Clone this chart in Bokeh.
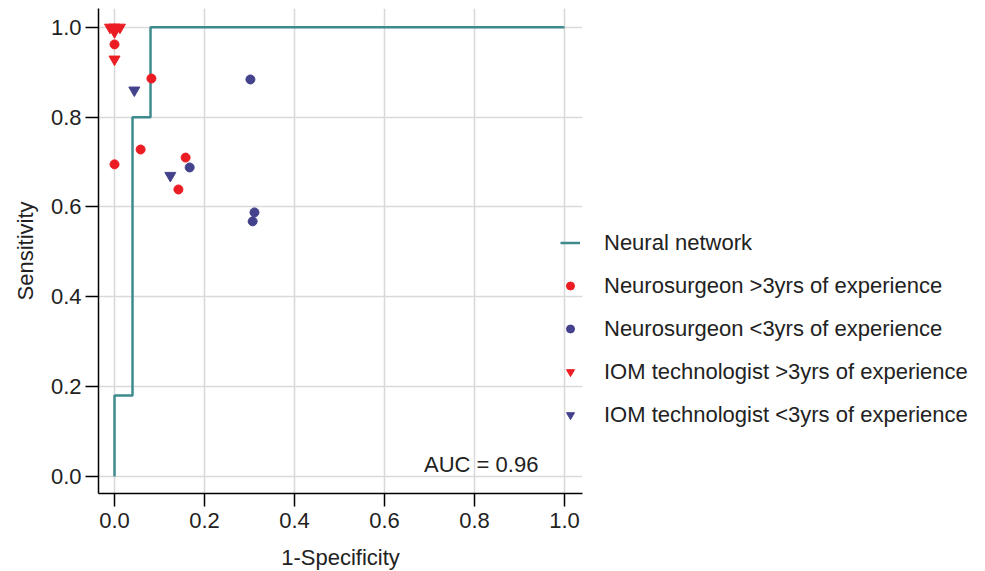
from bokeh.plotting import figure
from bokeh.models import Range1d, Legend, LegendItem, Label, FixedTicker, NumeralTickFormatter
from bokeh.embed import file_html
from bokeh.resources import INLINE

# ROC curve of the neural network
nn_fpr = [0.0, 0.0, 0.04, 0.04, 0.08, 0.08, 1.0]
nn_tpr = [0.0, 0.18, 0.18, 0.80, 0.80, 1.0, 1.0]

# Neurosurgeon >3yrs of experience
ns_sen_x = [0.0, 0.082, 0.058, 0.0, 0.158, 0.142]
ns_sen_y = [0.962, 0.886, 0.728, 0.695, 0.710, 0.639]

# Neurosurgeon <3yrs of experience
ns_jun_x = [0.302, 0.167, 0.311, 0.307]
ns_jun_y = [0.884, 0.688, 0.588, 0.568]

# IOM technologist >3yrs of experience
iom_sen_x = [-0.010, 0.0, 0.012, 0.0, 0.0]
iom_sen_y = [1.0, 1.0, 1.0, 0.99, 0.929]

# IOM technologist <3yrs of experience
iom_jun_x = [0.044, 0.124]
iom_jun_y = [0.860, 0.670]

ticks = [0.0, 0.2, 0.4, 0.6, 0.8, 1.0]
auc_text = "AUC = 0.96"

RED = "#ec1c24"
BLUE = "#45428d"
TEAL = "#3f8a8d"
FONT = "Liberation Sans"
TXT = "#222222"
FS = "22px"

p = figure(width=985, height=571, frame_width=484, frame_height=485,
           min_border_left=98, min_border_right=403, min_border_top=8, min_border_bottom=78,
           x_range=Range1d(-0.0356, 1.04), y_range=Range1d(-0.038, 1.042),
           output_backend="svg", toolbar_location=None)
p.outline_line_color = None
p.background_fill_color = "white"

for ax in (p.xaxis[0], p.yaxis[0]):
    ax.ticker = FixedTicker(ticks=ticks)
    ax.formatter = NumeralTickFormatter(format="0.0")
    ax.minor_tick_line_color = None
    ax.major_tick_in = 0
    ax.major_tick_out = 13
    ax.major_tick_line_width = 1.5
    ax.major_tick_line_color = "black"
    ax.axis_line_width = 1.5
    ax.axis_line_color = "black"
    ax.major_label_text_font = FONT
    ax.major_label_text_font_size = FS
    ax.major_label_text_color = TXT
    ax.axis_label_text_font = FONT
    ax.axis_label_text_font_size = FS
    ax.axis_label_text_font_style = "normal"
    ax.axis_label_text_color = TXT

p.xaxis.axis_label = "1-Specificity"
p.yaxis.axis_label = "Sensitivity"
p.xaxis.major_label_standoff = 6
p.yaxis.major_label_standoff = 4
p.xaxis.axis_label_standoff = 14
p.yaxis.axis_label_standoff = 10

for g in (p.xgrid[0], p.ygrid[0]):
    g.ticker = FixedTicker(ticks=ticks)
    g.grid_line_color = "#d9d9d9"
    g.grid_line_width = 1.6

r_nn = p.line(nn_fpr, nn_tpr, line_color=TEAL, line_width=2.5)
r_ns_sen = p.scatter(ns_sen_x, ns_sen_y, marker="circle", size=9, fill_color=RED, line_color=RED)
r_ns_jun = p.scatter(ns_jun_x, ns_jun_y, marker="circle", size=9, fill_color=BLUE, line_color=BLUE)
r_iom_sen = p.scatter(iom_sen_x, iom_sen_y, marker="inverted_triangle", size=11, fill_color=RED, line_color=RED)
r_iom_jun = p.scatter(iom_jun_x, iom_jun_y, marker="inverted_triangle", size=11, fill_color=BLUE, line_color=BLUE)

p.add_layout(Label(x=0.942, y=0.027, text=auc_text, text_align="right", text_baseline="middle",
                   text_font=FONT, text_font_size=FS, text_color=TXT))

legend = Legend(items=[
    LegendItem(label="Neural network", renderers=[r_nn]),
    LegendItem(label="Neurosurgeon >3yrs of experience", renderers=[r_ns_sen]),
    LegendItem(label="Neurosurgeon <3yrs of experience", renderers=[r_ns_jun]),
    LegendItem(label="IOM technologist >3yrs of experience", renderers=[r_iom_sen]),
    LegendItem(label="IOM technologist <3yrs of experience", renderers=[r_iom_jun]),
], location=(-22, 57), margin=0, padding=0, spacing=0,
    glyph_width=20, glyph_height=43, label_standoff=24,
    label_text_font=FONT, label_text_font_size=FS, label_text_color=TXT,
    border_line_color=None, background_fill_alpha=0)
p.add_layout(legend, "right")

open("out.html", "w").write(file_html(p, INLINE))
